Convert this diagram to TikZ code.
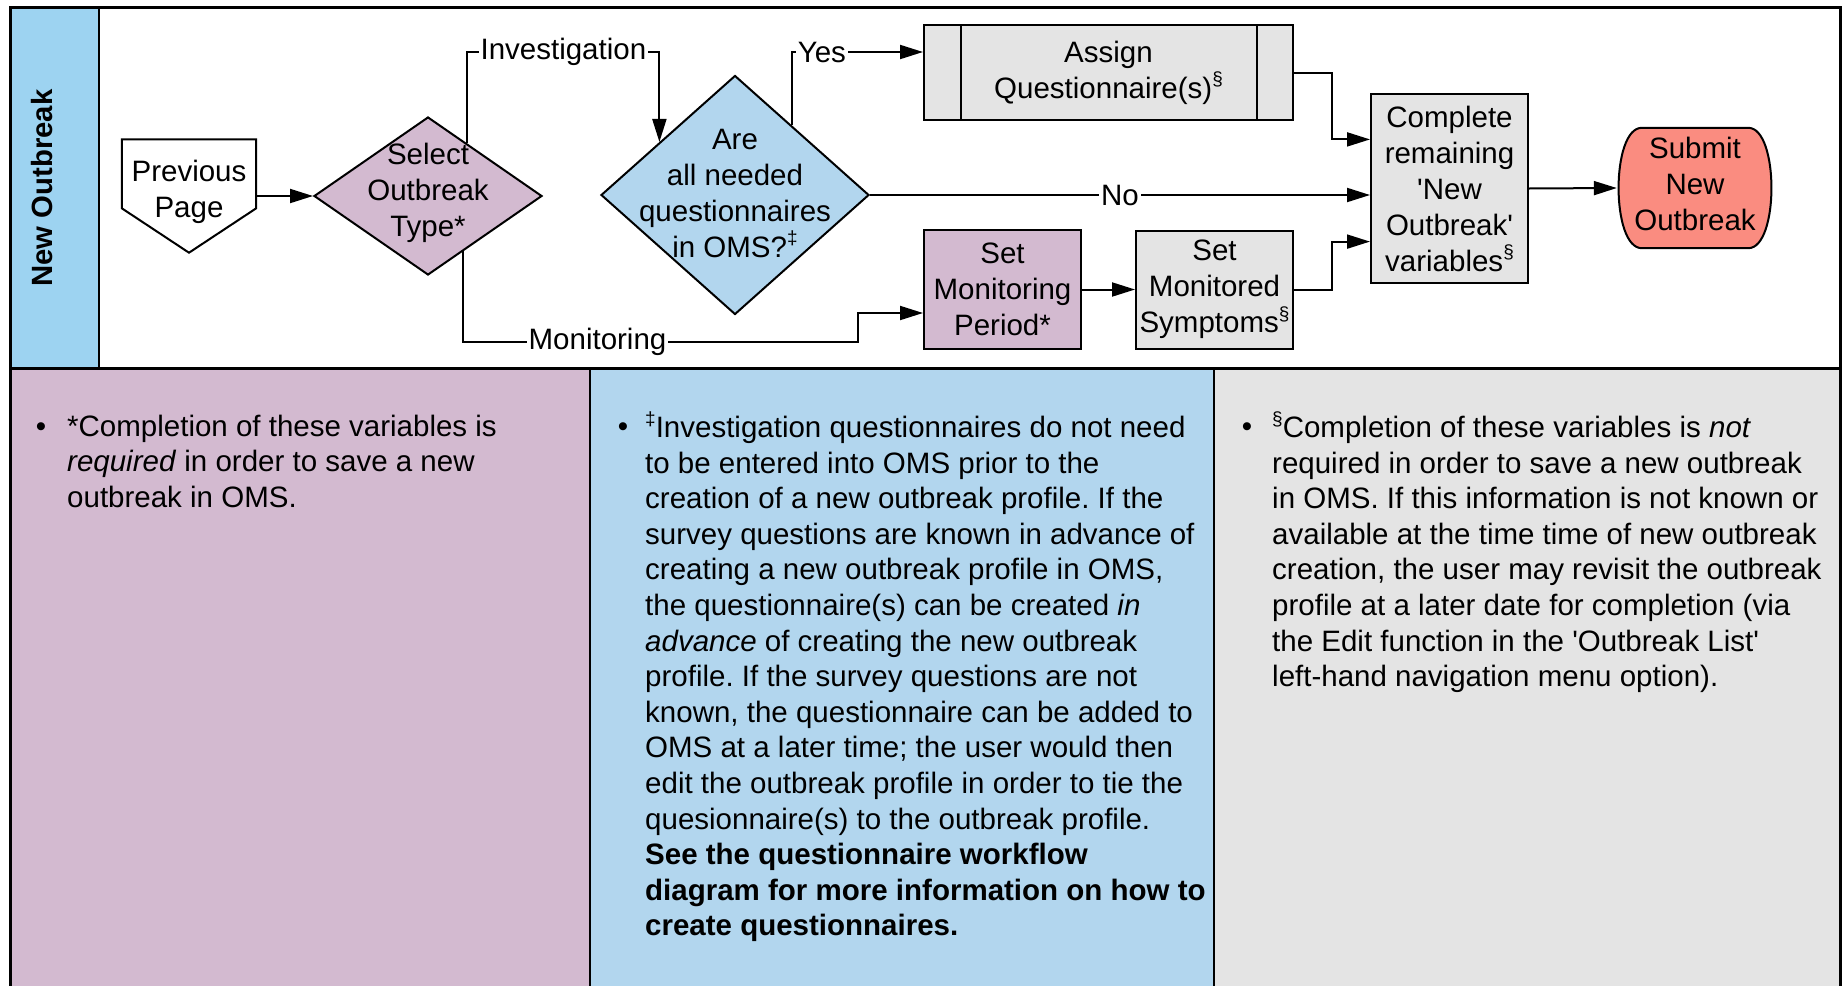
\documentclass[tikz,border=0pt]{standalone}
\usepackage{fontspec}
\setmainfont{Liberation Sans}[Ligatures=TeXOff]
\usetikzlibrary{shapes.geometric,arrows.meta,calc}

\definecolor{laneblue}{RGB}{157,211,241}
\definecolor{noteblue}{RGB}{178,214,238}
\definecolor{mauve}{RGB}{211,186,208}
\definecolor{panelgray}{RGB}{228,228,228}
\definecolor{salmonred}{RGB}{250,140,128}

% small raised footnote marks
\newcommand\supmark[1]{\raisebox{0.42em}{\fontsize{19}{19}\selectfont #1}}
\newcommand\notefont{\fontsize{29.5}{35.6}\selectfont}

\begin{document}
\frenchspacing
\begin{tikzpicture}[x=1pt,y=-1pt,
  every node/.style={font=\fontsize{29.5}{36}\selectfont},
  outline/.style={draw=black,line width=2pt},
  procbox/.style={outline,rectangle,inner sep=0,align=center},
  decision/.style={outline,diamond,inner sep=0},
  flowtext/.style={align=center,inner sep=0},
  edgelabel/.style={fill=white,inner sep=2pt},
  flow/.style={line width=2pt,-{Triangle[length=23pt,width=14pt]}},
  bulletnode/.style={anchor=base,inner sep=0},
  notetext/.style={anchor=north west,inner sep=0}]

\useasboundingbox (0,0) rectangle (1843,985);
\clip (0,0) rectangle (1843,985);

% ---- swimlane and note panels ----
\fill[laneblue] (10,7) rectangle (99,368);
\fill[mauve] (10,368) rectangle (590,990);
\fill[noteblue] (590,368) rectangle (1214,990);
\fill[panelgray] (1214,368) rectangle (1840,990);
\draw[line width=2pt] (99,7) -- (99,368);
\draw[line width=2pt] (590,368) -- (590,990) (1214,368) -- (1214,990);
\draw[line width=3pt] (10,990) -- (10,7) -- (1840,7) -- (1840,990);
\draw[line width=3pt] (10,368) -- (1840,368);

\node[rotate=90,font={\fontsize{29.3}{36}\selectfont\bfseries}] (lane) at (42,188) {New Outbreak};

% ---- flowchart shapes ----
\node[minimum width=134, minimum height=113, inner sep=0] (prev) at (189,196) {};
\path[outline, fill=white] (prev.north west) -- (prev.north east)
  -- ($(prev.north east)+(0,69)$) -- (prev.south) -- ($(prev.north west)+(0,69)$) -- cycle;
\node[flowtext] (prevtext) at ($(prev.center)+(0,-4)$) {Previous\\Page};

\node[decision, fill=mauve, minimum width=228, minimum height=158] (sel) at (428,196) {};
\node[flowtext] (seltext) at ($(sel.center)+(0,-3)$) {Select\\Outbreak\\Type*};

\node[decision, fill=noteblue, minimum width=268, minimum height=239] (are) at (735,195) {};
\node[flowtext] (aretext) at ($(are.center)+(0,-2)$) {Are\\all needed\\questionnaires\\in OMS?\supmark{‡}};

\node[procbox, fill=panelgray, minimum width=369, minimum height=95] (assign) at (1108.5,72.5) {Assign\\Questionnaire(s)\supmark{§}};
\draw[outline] ($(assign.north west)+(38,0)$) -- ($(assign.south west)+(38,0)$);
\draw[outline] ($(assign.north east)+(-37,0)$) -- ($(assign.south east)+(-37,0)$);

\node[procbox, fill=mauve, minimum width=157, minimum height=119] (setper) at (1002.5,289.5) {Set\\Monitoring\\Period*};
\node[procbox, fill=panelgray, minimum width=157, minimum height=118] (setsym) at (1214.5,289.5) {Set\\Monitored\\Symptoms\supmark{§}};
\node[procbox, fill=panelgray, minimum width=157, minimum height=189] (comp) at (1449.5,188.5) {Complete\\remaining\\'New\\Outbreak'\\variables\supmark{§}};

% terminator with bulging sides
\node[minimum width=156, minimum height=120, inner sep=0] (sub) at (1695,188) {};
\path[outline, fill=salmonred] ($(sub.north west)+(25,0)$) -- ($(sub.north east)+(-25,0)$)
  .. controls ($(sub.north east)+(6,0)$) and ($(sub.south east)+(6,0)$) .. ($(sub.south east)+(-25,0)$)
  -- ($(sub.south west)+(25,0)$)
  .. controls ($(sub.south west)+(-6,0)$) and ($(sub.north west)+(-6,0)$) .. ($(sub.north west)+(25,0)$) -- cycle;
\node[flowtext] (subtext) at ($(sub.center)+(0,-4)$) {Submit\\New\\Outbreak};

% ---- connectors ----
\coordinate (topLane) at (0,52);
\coordinate (botLane) at (0,342);
\coordinate (monJog) at (858,313);
\coordinate (mergeX) at (1332,0);
\coordinate (selInv) at ($(sel.north)!0.342!(sel.east)$);
\coordinate (selMon) at ($(sel.south)!0.307!(sel.east)$);
\coordinate (areInv) at ($(are.west)!0.44!(are.north)$);
\coordinate (areYes) at ($(are.north)!0.42!(are.east)$);
\coordinate (compIn1) at ($(comp.north west)!0.243!(comp.south west)$);
\coordinate (compIn3) at ($(comp.north west)!0.778!(comp.south west)$);

\draw[flow] (prev.east) -- (sel.west);
\draw[flow] (selInv) -- (selInv |- topLane) -- node[edgelabel]{Investigation} (areInv |- topLane) -- (areInv);
\draw[flow] (areYes) -- (areYes |- topLane) -- node[edgelabel,pos=0.23]{Yes} (assign.west |- topLane);
\draw[flow] (are.east) -- node[edgelabel]{No} (are.east -| comp.west);
\draw[flow] (selMon) -- (selMon |- botLane) -- node[edgelabel,pos=0.34]{Monitoring} (monJog |- botLane) -- (monJog) -- (setper.west |- monJog);
\draw[flow] (setper.east) -- (setsym.west);
\draw[flow] (assign.east) -- (assign.east -| mergeX) -- (mergeX |- compIn1) -- (compIn1);
\draw[flow] (setsym.east) -- (setsym.east -| mergeX) -- (mergeX |- compIn3) -- (compIn3);
\draw[flow] (comp.east) -- (sub.west);

% ---- footnote panels ----
\node[bulletnode] (b1) at (41,436) {•};
\node[notetext] (n1) at (67,411.1) {\parbox[t]{700pt}{\notefont\frenchspacing\raggedright\strut
*Completion of these variables is\\
\textit{required} in order to save a new\\
outbreak in OMS.}};

\node[bulletnode] (b2) at (623,436) {•};
\node[notetext] (n2) at (645,411.1) {\parbox[t]{700pt}{\notefont\frenchspacing\raggedright\strut
\supmark{‡}Investigation questionnaires do not need\\
to be entered into OMS prior to the\\
creation of a new outbreak profile. If the\\
survey questions are known in advance of\\
creating a new outbreak profile in OMS,\\
the questionnaire(s) can be created \textit{in}\\
\textit{advance} of creating the new outbreak\\
profile. If the survey questions are not\\
known, the questionnaire can be added to\\
OMS at a later time; the user would then\\
edit the outbreak profile in order to tie the\\
quesionnaire(s) to the outbreak profile.\\
\textbf{See the questionnaire workflow}\\
\textbf{diagram for more information on how to}\\
\textbf{create questionnaires.}}};

\node[bulletnode] (b3) at (1247,436) {•};
\node[notetext] (n3) at (1272,411.1) {\parbox[t]{700pt}{\notefont\frenchspacing\raggedright\strut
\supmark{§}Completion of these variables is \textit{not}\\
required in order to save a new outbreak\\
in OMS. If this information is not known or\\
available at the time time of new outbreak\\
creation, the user may revisit the outbreak\\
profile at a later date for completion (via\\
the Edit function in the 'Outbreak List'\\
left-hand navigation menu option).}};
\end{tikzpicture}
\end{document}
